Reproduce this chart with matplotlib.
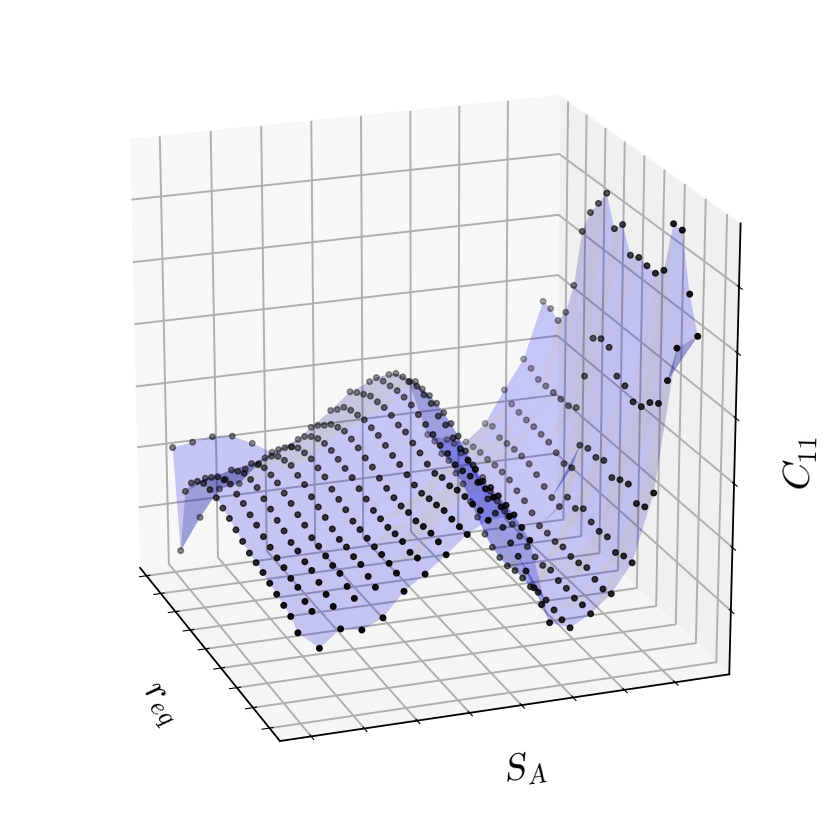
import numpy as np
import matplotlib
matplotlib.use("Agg")
import matplotlib.pyplot as plt
from mpl_toolkits.mplot3d import Axes3D

plt.rcParams['mathtext.fontset'] = 'cm'

S_A_values = [float(i) for i in range(20)]
r_eq_values = [0.0, 0.053, 0.105, 0.158, 0.211, 0.263, 0.316, 0.368, 0.421, 0.474,
               0.526, 0.579, 0.632, 0.684, 0.737, 0.789, 0.842, 0.895, 0.947, 1.0]

C11_col00 = [94,102,105,108,111,114,116,118,122,126,130,133,136,137,136,131,122,106,37,137]
C11_col01 = [76,104,106,112,113,116,118,121,124,128,131,135,137,140,137,133,125,117,69,140]
C11_col02 = [92,106,110,114,118,119,122,123,127,130,134,137,141,142,141,136,130,113,96,143]
C11_col03 = [88,111,115,120,120,122,124,125,130,133,137,140,143,144,144,140,134,121,99,141]
C11_col04 = [97,119,122,126,126,128,128,131,135,138,141,146,148,151,149,146,139,130,117,131]
C11_col05 = [120,130,132,133,133,134,135,136,140,143,146,151,153,155,154,152,146,138,129,119]
C11_col06 = [134,142,140,143,143,142,143,144,148,151,155,157,159,161,161,159,154,147,137,122]
C11_col07 = [150,155,156,155,153,154,153,154,156,159,163,165,168,170,171,168,164,156,149,140]
C11_col08 = [167,167,167,168,166,165,163,164,167,170,172,175,178,179,180,178,176,172,163,155]
C11_col09 = [178,180,179,179,178,175,176,173,175,179,182,186,186,189,190,189,188,183,178,172]
C11_col10 = [179,181,183,184,183,182,180,179,183,184,188,191,194,197,198,198,196,194,191,180]
C11_col11 = [153,158,163,165,167,168,167,172,174,178,182,188,190,196,198,200,198,196,193,185]
C11_col12 = [69,79,88,97,104,110,118,125,132,142,152,159,167,173,177,180,181,181,182,175]
C11_col13 = [61,61,63,65,65,63,64,64,61,62,65,71,81,90,101,105,111,111,117,117]
C11_col14 = [72,73,72,74,74,77,74,75,78,81,86,92,95,98,105,106,108,109,112,109]
C11_col15 = [89,86,88,92,89,88,90,88,89,89,95,100,103,107,108,108,107,107,106,104]
C11_col16 = [117,116,112,120,118,120,126,119,123,106,108,112,117,121,122,122,121,120,125,121]
C11_col17 = [183,162,158,170,167,162,172,168,170,166,136,133,137,141,142,143,143,144,146,154]
C11_col18 = [321,283,254,248,237,235,244,247,269,271,265,220,181,176,176,176,176,176,181,184]
C11_col19 = [330,364,419,419,368,359,360,362,358,382,372,401,385,370,345,284,250,235,241,242]

C11 = np.array([C11_col00,C11_col01,C11_col02,C11_col03,C11_col04,C11_col05,C11_col06,C11_col07,C11_col08,C11_col09,
                C11_col10,C11_col11,C11_col12,C11_col13,C11_col14,C11_col15,C11_col16,C11_col17,C11_col18,C11_col19], float)

x_ticks = [0.245,2.755,5.267,7.777,10.287,12.797,15.306,17.816]
y_ticks = [0.027,0.154,0.281,0.408,0.535,0.662,0.789,0.916,1.043]
z_ticks = [64,127,190,254,317,380]

U, V = np.meshgrid(S_A_values, r_eq_values, indexing='ij')

fig = plt.figure(figsize=(8.3, 8.3), dpi=100)
ax = fig.add_axes([0, 0, 1, 1], projection='3d')
ax.view_init(elev=20, azim=-110)
ax.plot_trisurf(U.ravel(), V.ravel(), C11.ravel(), color='blue', alpha=0.2, linewidth=0.2, antialiased=True)
ax.scatter(U.ravel(), V.ravel(), C11.ravel(), c='black', s=16, depthshade=True)
ax.set_xlim(-1.216, 20.52)
ax.set_ylim(-0.052, 1.10)
ax.set_zlim(0, 440)
ax.set_xticks(x_ticks); ax.set_yticks(y_ticks); ax.set_zticks(z_ticks)
ax.set_xticklabels([]); ax.set_yticklabels([]); ax.set_zticklabels([])
ax.set_xlabel(r'$S_A$', fontsize=27, labelpad=10)
ax.set_ylabel(r'$r_{eq}$', fontsize=27, labelpad=13)
ax.set_zlabel(r'$C_{11}$', fontsize=28, labelpad=11, rotation=90)
ax.zaxis.set_ticks_position('lower')
ax.zaxis.set_label_position('lower')
ax.xaxis.set_pane_color((0.94, 0.94, 0.94, 1))
ax.yaxis.set_pane_color((0.97, 0.97, 0.97, 1))
ax.zaxis.set_pane_color((0.96, 0.96, 0.96, 1))
for a in (ax.xaxis, ax.yaxis, ax.zaxis):
    a._axinfo['grid']['color'] = '#b0b0b0'
    a._axinfo['grid']['linewidth'] = 1.4
    a.line.set_linewidth(1.3)
    a.pane.set_edgecolor((0.97, 0.97, 0.97, 0))
ax.set_box_aspect((1, 1, 1), zoom=0.947)
fig.savefig('out.png', dpi=100)
